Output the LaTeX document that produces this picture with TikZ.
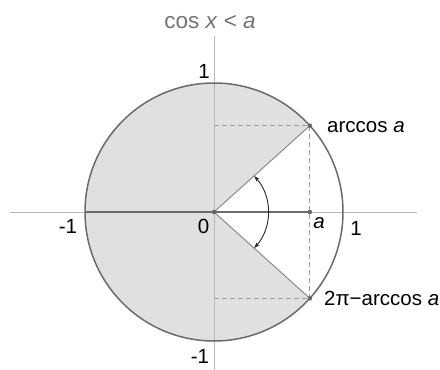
\documentclass[tikz,border=0pt]{standalone}
\usepackage{fontspec}
\setmainfont{Liberation Sans}
\usetikzlibrary{arrows.meta,calc}
\begin{document}
\begin{tikzpicture}[x=1pt,y=-1pt,
  axisline/.style={draw=black!28,line width=0.7pt},
  circleline/.style={draw=black!58,line width=1.5pt},
  radius line/.style={draw=black!45,line width=1pt},
  dashline/.style={draw=black!38,line width=0.9pt,dash pattern=on 5pt off 3pt},
  dotpt/.style={circle,fill=black!60,inner sep=0pt,minimum size=4.5pt},
  lbl/.style={font=\fontsize{20.5}{23}\selectfont,inner sep=0pt,text=black},
  ]
\useasboundingbox (0,0) rectangle (440,370);
\def\R{129}
\coordinate (O) at (214,212);
\coordinate (P) at ($(O)+(-42:\R)$);
\coordinate (Q) at ($(O)+(42:\R)$);
\coordinate (A) at (P |- O);
\coordinate (L) at ($(O)+(-\R,0)$);
\coordinate (PY) at (O |- P);
\coordinate (QY) at (O |- Q);
\coordinate (xl) at (10,212);
\coordinate (xr) at (417,212);
\coordinate (yt) at (214,36);
\coordinate (yb) at (214,370);
% shaded region
\fill[black!12] (O) -- (P) arc[start angle=-42, delta angle=-276, radius=\R] -- cycle;
% axes
\draw[axisline] (xl) -- (xr);
\draw[axisline] (yt) -- (yb);
% dashed
\draw[dashline] (PY) -- (P);
\draw[dashline] (QY) -- (Q);
\draw[dashline] (P) -- (Q);
% radii
\draw[radius line] (O) -- (P);
\draw[radius line] (O) -- (Q);
% thick segment
\draw[circleline] (L) -- (A);
% circle
\draw[circleline] (O) circle[radius=\R];
% angle arc
\draw[black!85,line width=0.9pt,{Stealth[length=6pt,width=4pt]}-{Stealth[length=6pt,width=4pt]}]
  ($(O)+(-42:54)$) arc[start angle=-42, end angle=42, radius=54];
% dots
\node[dotpt] (o) at (O) {};
\node[dotpt] (ap) at (A) {};
\node[dotpt] (pp) at (P) {};
\node[dotpt] (qp) at (Q) {};
% labels
\node[lbl,anchor=base,text=black!55,font=\fontsize{22.5}{24}\selectfont] (title) at (210,28) {cos \textit{x} < \textit{a}};
\node[lbl,anchor=base] (one t) at (204,78) {1};
\node[lbl,anchor=base] (mone b) at (200,363) {-1};
\node[lbl,anchor=base] (mone l) at (68,233) {-1};
\node[lbl,anchor=base] (zero) at (203.5,233) {0};
\node[lbl,anchor=base] (alab) at (319,228) {\textit{a}};
\node[lbl,anchor=base] (one r) at (356,235) {1};
\node[lbl,anchor=base west] (arcc) at (327,132) {arccos \textit{a}};
\node[lbl,anchor=base west] (arcc2) at (324,305) {2π−arccos \textit{a}};
\end{tikzpicture}
\end{document}
